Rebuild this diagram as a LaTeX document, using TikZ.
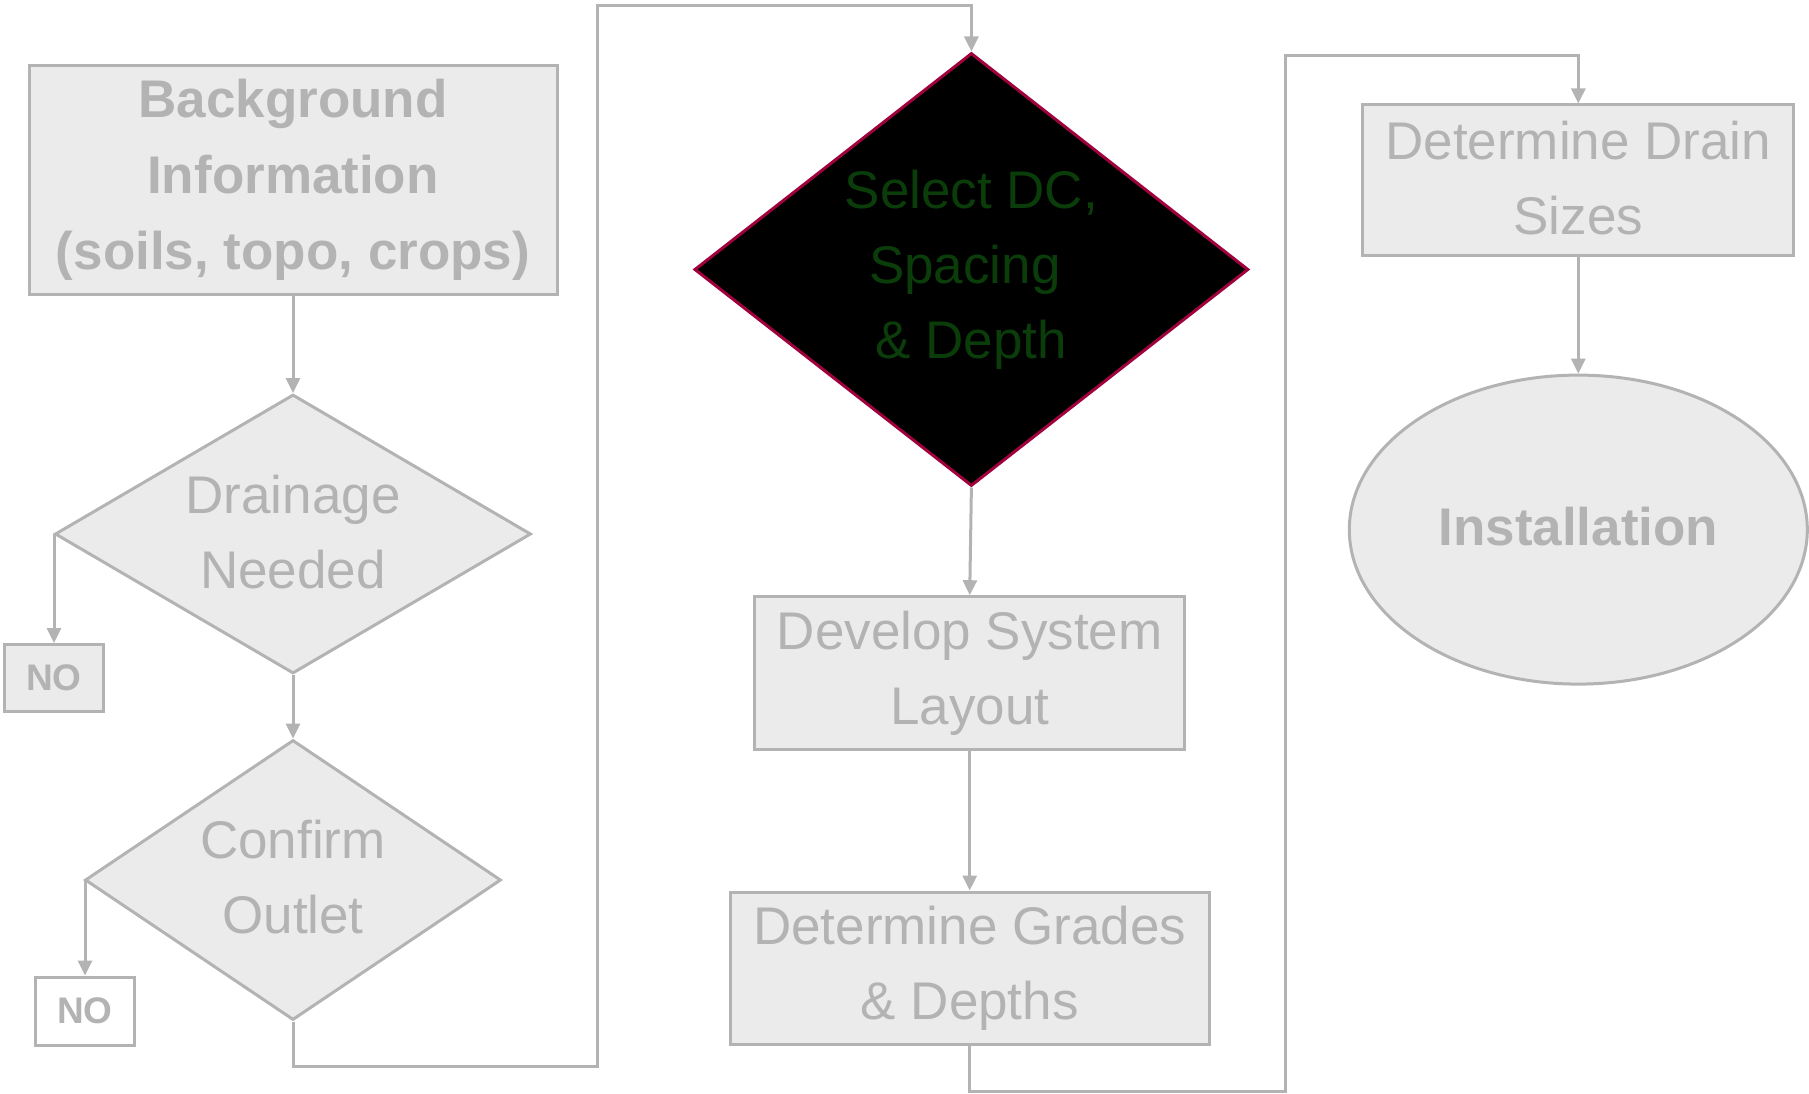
\documentclass[tikz,border=0pt]{standalone}
\usepackage{fontspec}
\setmainfont{Liberation Sans}
\usetikzlibrary{shapes.geometric,arrows.meta}
\definecolor{linegray}{HTML}{B3B3B3}
\definecolor{boxfill}{HTML}{EBEBEB}
\definecolor{darkgreen}{HTML}{0A3D0A}
\definecolor{crimson}{HTML}{A0003C}
\tikzset{
  x=1pt, y=1pt,
  base/.style={draw=linegray, line width=3pt, text=linegray, inner sep=0pt, align=center,
    font=\fontsize{53}{75}\selectfont},
  stepbox/.style={base, rectangle, fill=boxfill},
  decision/.style={base, diamond, fill=boxfill},
  nobox/.style={base, rectangle, font=\fontsize{37}{44}\selectfont\bfseries},
  conn/.style={draw=linegray, line width=3pt, -{Triangle[length=15pt,width=14pt]}},
}
\begin{document}
\begin{tikzpicture}
\useasboundingbox (0,0) rectangle (1809,-1094);

% left column
\node[stepbox, minimum width=528pt, minimum height=228pt,
      font=\fontsize{53}{76}\selectfont\bfseries] (bg) at (293,-180)
  {Background\\Information\\(soils, topo, crops)};
\node[decision, minimum width=476pt, minimum height=279pt, shape aspect=1.706, text depth=5pt] (drain) at (293,-534)
  {Drainage\\Needed};
\node[nobox, fill=boxfill, minimum width=99pt, minimum height=67pt] (no1) at (54,-678) {NO};
\node[decision, minimum width=416pt, minimum height=280pt, shape aspect=1.487, text depth=7pt] (confirm) at (293,-880)
  {Confirm\\Outlet};
\node[nobox, fill=white, minimum width=99pt, minimum height=68pt] (no2) at (85,-1011) {NO};

% middle column
\node[base, diamond, fill=black, draw=crimson, text=darkgreen,
      minimum width=554pt, minimum height=433pt, shape aspect=1.28] (select) at (971.4,-269.5)
  {Select DC,\\Spacing\rule{13pt}{0pt}\\\& Depth};
\node[stepbox, minimum width=430pt, minimum height=153pt] (develop) at (969.7,-673.2)
  {Develop System\\Layout};
\node[stepbox, minimum width=479pt, minimum height=152pt] (grades) at (969.7,-968)
  {Determine Grades\\\& Depths};

% right column
\node[stepbox, minimum width=431pt, minimum height=150pt, text depth=4pt] (sizes) at (1578.3,-180)
  {Determine Drain\\Sizes};
\node[base, ellipse, fill=boxfill, minimum width=458pt, minimum height=309pt, text depth=7pt,
      font=\fontsize{53}{75}\selectfont\bfseries] (install) at (1578.3,-529.6)
  {Installation};

% routing points for the long connectors
\coordinate (r1) at (597.6,-1066);
\coordinate (r2) at (597.6,-5.8);
\coordinate (r3) at (1285.2,-1091.4);
\coordinate (r4) at (1285.2,-55.4);

% connectors
\draw[conn] (bg.south) -- (drain.north);
\draw[conn] (drain.west) -| (no1.north);
\draw[conn] (drain.south) -- (confirm.north);
\draw[conn] (confirm.west) -| (no2.north);
\draw[conn] (confirm.south) |- (r1) -- (r2) -| (select.north);
\draw[conn] (select.south) -- (develop.north);
\draw[conn] (develop.south) -- (grades.north);
\draw[conn] (grades.south) |- (r3) -- (r4) -| (sizes.north);
\draw[conn] (sizes.south) -- (install.north);
\end{tikzpicture}
\end{document}
